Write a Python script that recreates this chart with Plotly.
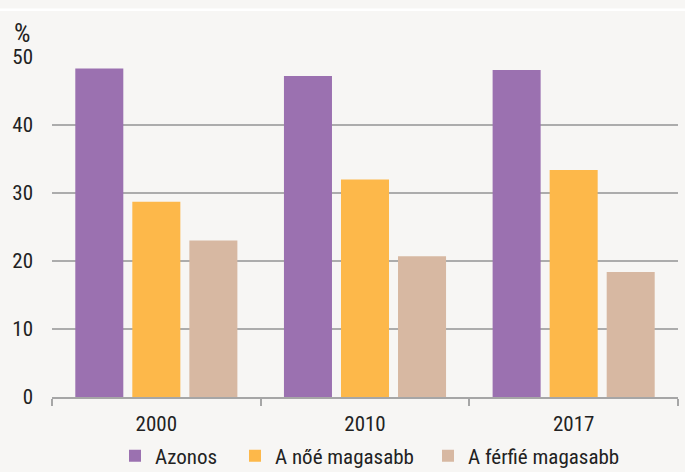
import plotly.graph_objects as go

categories = ["2000", "2010", "2017"]
series_names = ["Azonos", "A nőé magasabb", "A férfié magasabb"]
azonos = [48.3, 47.2, 48.1]
noe_magasabb = [28.7, 32.0, 33.4]
ferfie_magasabb = [23.0, 20.7, 18.4]
y_ticks = [0, 10, 20, 30, 40, 50]

colors = ["#9B71B0", "#FDB84A", "#D7B8A2"]
FONT = "Roboto Condensed, Liberation Sans Narrow, Arial Narrow, sans-serif"
BG = "#F7F6F4"
TXT = "#222222"
W, H = 685, 472


def fnt(size=21):
    return dict(family=FONT, size=size, color=TXT, weight=400)


fig = go.Figure()
legend_ids = ["legend", "legend2", "legend3"]
for name, vals, col, lg in zip(series_names, [azonos, noe_magasabb, ferfie_magasabb], colors, legend_ids):
    fig.add_trace(go.Bar(x=categories, y=vals, name=name, legend=lg,
                         marker=dict(color=col, line=dict(width=0))))

# legend box left edges in container pixels, one legend per series
leg_px = [115, 235, 428]
leg_common = dict(orientation="h", xref="container", yref="container",
                  y=1 - 456 / H, yanchor="middle", xanchor="left",
                  font=fnt(21), itemwidth=30, bgcolor="rgba(0,0,0,0)")

fig.update_layout(
    width=W, height=H,
    paper_bgcolor=BG, plot_bgcolor=BG,
    margin=dict(l=52, r=7, t=57, b=75),
    barmode="group", bargap=0.18, bargroupgap=0.158,
    font=fnt(21),
    showlegend=True,
    legend=dict(x=leg_px[0] / W, **leg_common),
    legend2=dict(x=leg_px[1] / W, **leg_common),
    legend3=dict(x=leg_px[2] / W, **leg_common),
    xaxis=dict(type="category", showgrid=False, showline=True, linecolor="#A6A6A6", linewidth=1.5,
               ticks="outside", tickson="boundaries", ticklen=7, tickcolor="#A6A6A6", tickwidth=1.5,
               ticklabelstandoff=7, automargin=False, tickfont=fnt(21)),
    yaxis=dict(range=[0, 50], tickvals=y_ticks, showgrid=True, gridcolor="#ACACAC", gridwidth=1.5,
               zeroline=False, showline=False, ticks="", ticklabelstandoff=18, automargin=False,
               tickfont=fnt(21)),
    shapes=[dict(type="line", xref="paper", yref="paper", x0=-0.2, x1=1.2,
                 y0=(397.3 - 10) / 340, y1=(397.3 - 10) / 340,
                 line=dict(color="white", width=2.5))],
    annotations=[dict(text="%", xref="paper", yref="paper", x=(22 - 52) / 626, y=(397.3 - 33.5) / 340,
                      xanchor="center", yanchor="middle", showarrow=False, font=fnt(26))],
)

fig.write_html("out.html", config={"displayModeBar": False},
               post_script="document.body.style.margin='0';document.body.style.overflow='hidden';")
